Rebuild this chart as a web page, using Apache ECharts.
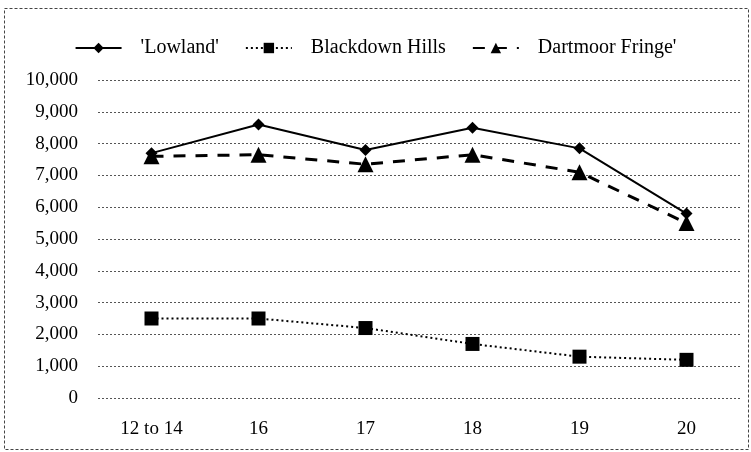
<!DOCTYPE html>
<html>
<head>
<meta charset="utf-8">
<script src="https://cdn.jsdelivr.net/npm/echarts@6/dist/echarts.min.js"></script>
<style>
  html, body { margin: 0; padding: 0; background: #fff; }
  #chart { width: 751px; height: 452px; }
</style>
</head>
<body>
<div id="chart"></div>
<script>
var categories = ['12 to 14', '16', '17', '18', '19', '20']
var lowland = [7700, 8600, 7800, 8500, 7850, 5800]
var blackdown = [2500, 2500, 2200, 1700, 1300, 1200]
var dartmoor = [7600, 7650, 7350, 7650, 7100, 5500]
var seriesNames = ["'Lowland'", 'Blackdown Hills', "Dartmoor Fringe'"]

var chart = echarts.init(document.getElementById('chart'), null, { renderer: 'canvas' })
var font = '"Liberation Serif", "DejaVu Serif", serif'

var option = {
  backgroundColor: '#fff',
  animation: false,
  textStyle: { fontFamily: font, color: '#000' },
  legend: {
    top: 33,
    left: 'center',
    itemWidth: 46,
    itemHeight: 13,
    itemGap: 26,
    textStyle: { fontFamily: font, fontSize: 20, color: '#000', padding: [0, 0, 0, 14] },
    data: seriesNames
  },
  grid: { left: 98, right: 11, top: 80, bottom: 54 },
  xAxis: {
    type: 'category',
    data: categories,
    boundaryGap: true,
    axisLine: { show: false },
    axisTick: { show: false },
    axisLabel: { fontFamily: font, fontSize: 19, color: '#000', margin: 22 }
  },
  yAxis: {
    type: 'value',
    min: 0,
    max: 10000,
    interval: 1000,
    axisLine: { show: false },
    axisTick: { show: false },
    axisLabel: {
      fontFamily: font, fontSize: 19, color: '#000', margin: 20,
      formatter: function (v) { return v.toLocaleString('en-US') }
    },
    splitLine: { lineStyle: { color: '#555', width: 1, type: [2, 2] } }
  },
  series: [
    {
      name: seriesNames[0],
      type: 'line',
      data: lowland,
      symbol: 'diamond',
      symbolSize: 12,
      itemStyle: { color: '#000' },
      lineStyle: { color: '#000', width: 2 }
    },
    {
      name: seriesNames[1],
      type: 'line',
      data: blackdown,
      symbol: 'rect',
      symbolSize: 14,
      itemStyle: { color: '#000' },
      lineStyle: { color: '#000', width: 2, type: [2, 3] }
    },
    {
      name: seriesNames[2],
      type: 'line',
      data: dartmoor,
      symbol: 'triangle',
      symbolSize: 16,
      itemStyle: { color: '#000' },
      lineStyle: { color: '#000', width: 3, type: [12, 10] }
    }
  ],
  graphic: [
    {
      type: 'rect',
      shape: { x: 4.5, y: 8.5, width: 744, height: 441 },
      style: { fill: 'none', stroke: '#444', lineWidth: 1, lineDash: [3, 2] },
      silent: true
    }
  ]
}
chart.setOption(option)
</script>
</body>
</html>
